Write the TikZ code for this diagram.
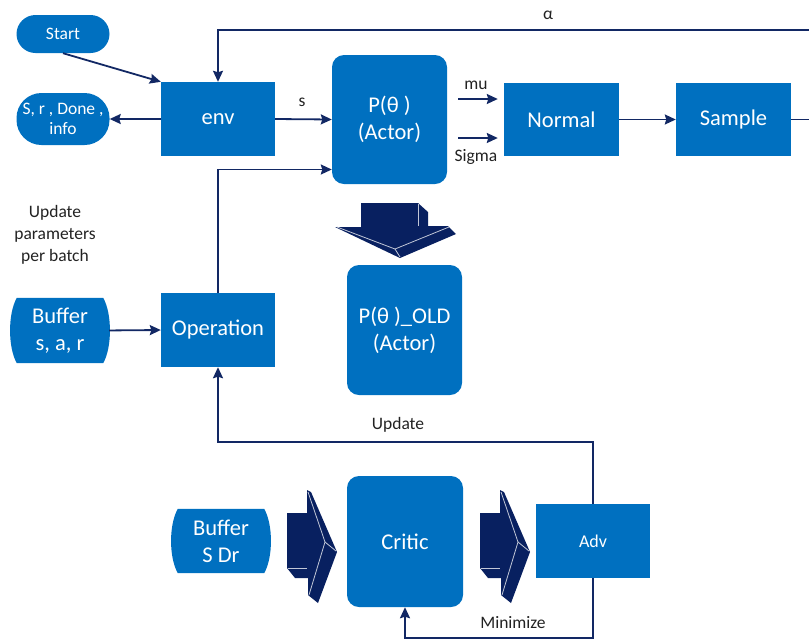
\documentclass[tikz,border=0pt]{standalone}
\usepackage{fontspec}
\setmainfont{Carlito}
\usetikzlibrary{arrows.meta,backgrounds}
\definecolor{boxblue}{RGB}{0,112,192}
\definecolor{linenavy}{RGB}{18,40,100}
\definecolor{blocknavy}{RGB}{8,32,96}
\definecolor{labelgray}{RGB}{34,34,34}
\begin{document}
\begin{tikzpicture}[x=1pt,y=-1pt,
  box/.style={draw=none, fill=boxblue, text=white, align=center, inner sep=0pt,
    font=\fontsize{22.5}{27}\selectfont},
  rbox/.style={box, rounded corners=12pt},
  pill/.style={box, font=\fontsize{17.5}{20.5}\selectfont},
  bufnode/.style={box, fill=none},
  conn/.style={draw=linenavy, line width=1.8pt},
  arr/.style={conn, -{Stealth[length=11pt,width=10pt,inset=1.5pt]}},
  lbl/.style={text=labelgray, font=\fontsize{17.5}{22}\selectfont, align=center, inner sep=0pt},
  blk/.style={fill=blocknavy},
  facet/.style={draw=white!75!blocknavy, line width=0.8pt, line join=round},
]
\useasboundingbox (0,0) rectangle (809,641);

% ---- nodes ----
\node[pill, minimum width=93pt, minimum height=38pt, rounded corners=19pt] (start) at (63,34) {Start};
\node[pill, minimum width=93pt, minimum height=52pt, rounded corners=25pt] (out) at (63,119) {S, r , Done ,\\info};
\node[box, minimum width=114pt, minimum height=74pt] (env) at (218,119) {env};
\node[rbox, minimum width=115pt, minimum height=129pt] (actor) at (389.5,119.5) {P(θ )\\(Actor)};
\node[box, minimum width=115pt, minimum height=73pt] (normal) at (561.5,119.5) {Normal};
\node[box, minimum width=115pt, minimum height=73pt] (sample) at (733.5,119.5) {Sample};
\node[rbox, minimum width=115pt, minimum height=130pt] (old) at (404.5,330) {P(θ )\_OLD\\(Actor)};
\node[bufnode, minimum width=86pt, minimum height=65pt] (buf1) at (60,330.5) {Buffer\\s, a, r};
\node[box, minimum width=114pt, minimum height=74pt] (oper) at (218,330) {Operation};
\node[bufnode, minimum width=86pt, minimum height=64pt] (buf2) at (221,541) {Buffer\\S Dr};
\node[rbox, minimum width=116pt, minimum height=131pt] (critic) at (405,541.5) {Critic};
\node[box, minimum width=114pt, minimum height=74pt, font=\fontsize{18}{22}\selectfont] (adv) at (593,541) {Adv};

% buffer outlines with bulging sides
\begin{scope}[on background layer]
  \foreach \b in {buf1,buf2}{
    \fill[boxblue] (\b.north west) -- (\b.north east)
      .. controls +(9,16) and +(9,-16) .. (\b.south east)
      -- (\b.south west)
      .. controls +(-9,-16) and +(-9,16) .. (\b.north west) -- cycle;
  }
\end{scope}

% ---- labels ----
\node[lbl] (lblalpha) at (548,15) {α};
\node[lbl] (lbls) at (302,102) {s};
\node[lbl] (lblmu) at (476,85) {mu};
\node[lbl] (lblsigma) at (476,157) {Sigma};
\node[lbl] (lblbatch) at (55,235) {Update\\parameters\\per batch};
\node[lbl] (lblupdate) at (398,425) {Update};
\node[lbl] (lblmin) at (513,623) {Minimize};

% ---- free ends and bends ----
\coordinate (alphaR) at (809,30);
\coordinate (sampR) at (809,119.5);
\coordinate (muS) at (458,99);
\coordinate (sigS) at (458,138);
\coordinate (updY) at (0,442);
\coordinate (minY) at (0,638);

% ---- connectors ----
\draw[arr] (start.south) -- (env.north west);
\draw[arr] (env.west) -- (out.east);
\draw[arr] (env.east) -- (actor.west);
\draw[arr] (alphaR) -| (env.north);
\draw[arr] (muS) -- ([xshift=-6pt]normal.west |- muS);
\draw[arr] (sigS) -- ([xshift=-6pt]normal.west |- sigS);
\draw[arr] (normal.east) -- (sample.west);
\draw[conn] (sample.east) -- (sampR);
\draw[arr] (oper.north) |- ([yshift=-50pt]actor.west);
\draw[arr, shorten <=6pt] (buf1.east) -- (oper.west);
\draw[arr] (adv.north) -- (adv.north |- updY) -| (oper.south);
\draw[arr] (adv.south) -- (adv.south |- minY) -| (critic.south);

% ---- 3D block arrows ----
% downward arrow, actor to old copy
\fill[blk] (361,203) -- (418,203) -- (428,212) -- (428,226) -- (448,226) -- (456,234)
  -- (400,258) -- (335,227) -- (361,227) -- cycle;
\draw[facet] (337,227) -- (395,249) -- (449,227);
\draw[facet] (395,249) -- (400,257);
\draw[facet] (418,204) -- (418,226);
% rightward arrows into and out of the critic
\foreach \dx in {0,193}{
  \begin{scope}[xshift=\dx pt]
    \fill[blk] (287,513) -- (307,513) -- (307,490) -- (311,492) -- (337,552) -- (318,603)
      -- (308,595) -- (308,578) -- (295,578) -- (287,568) -- cycle;
    \draw[facet] (308,492) -- (325,542) -- (309,595);
    \draw[facet] (325,542) -- (336,551);
    \draw[facet] (288,568) -- (307,568);
  \end{scope}
}
\end{tikzpicture}
\end{document}
